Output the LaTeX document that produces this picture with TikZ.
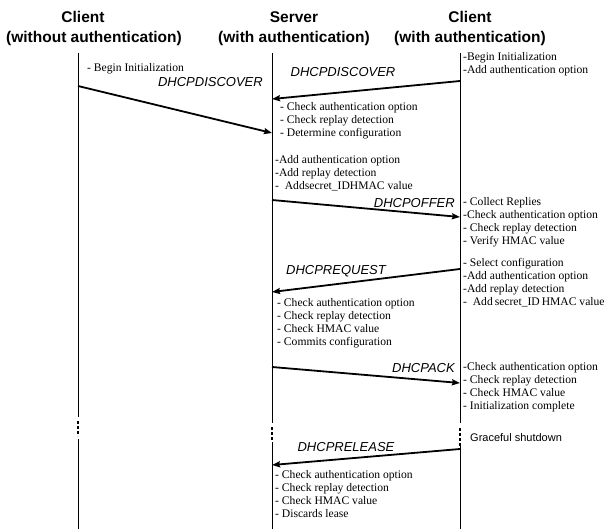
\documentclass[tikz,border=0pt]{standalone}
\usepackage{fontspec}
\setmainfont{Liberation Serif}
\setsansfont{Liberation Sans}
\usetikzlibrary{arrows.meta}
\begin{document}
\begin{tikzpicture}[x=1pt,y=-1pt,
  title/.style={font=\sffamily\bfseries\fontsize{15.5}{18}\selectfont, inner sep=0pt},
  note/.style={font=\fontsize{11.6}{13.2}\selectfont, align=left, anchor=north west, inner sep=0pt},
  sans/.style={font=\sffamily\fontsize{11}{13}\selectfont, anchor=west, inner sep=0pt},
  msg/.style={font=\sffamily\itshape\fontsize{13}{15}\selectfont, inner sep=0pt},
  life/.style={line width=0.9pt},
  gap/.style={line width=1.4pt, dash pattern=on 3pt off 2pt},
  arr/.style={line width=1.8pt, -{Stealth[length=8pt,width=6pt,inset=1pt]}}]
\useasboundingbox (0,0) rectangle (610,529);

% titles
\node[title] (t1a) at (83,17) {Client};
\node[title] (t1b) at (94,38) {(without authentication)};
\node[title] (t2a) at (294,17) {Server};
\node[title] (t2b) at (294,38) {(with authentication)};
\node[title] (t3a) at (470,17) {Client};
\node[title] (t3b) at (470,38) {(with authentication)};

% lifeline points
\coordinate (Lt) at (78,53);  \coordinate (Lb1) at (78,417); \coordinate (Ld1) at (78,421); \coordinate (Ld2) at (78,436); \coordinate (Lb2) at (78,439); \coordinate (Le) at (78,529);
\coordinate (Mt) at (272,53); \coordinate (Mb1) at (272,423); \coordinate (Md1) at (272,427); \coordinate (Md2) at (272,440); \coordinate (Mb2) at (272,442); \coordinate (Me) at (272,529);
\coordinate (Rt) at (460,53); \coordinate (Rb1) at (460,423); \coordinate (Rd1) at (460,428); \coordinate (Rd2) at (460,446); \coordinate (Rb2) at (460,446); \coordinate (Re) at (460,529);

\draw[life] (Lt) -- (Lb1); \draw[gap] (Ld1) -- (Ld2); \draw[life] (Lb2) -- (Le);
\draw[life] (Mt) -- (Mb1); \draw[gap] (Md1) -- (Md2); \draw[life] (Mb2) -- (Me);
\draw[life] (Rt) -- (Rb1); \draw[gap] (Rd1) -- (Rd2); \draw[life] (Rb2) -- (Re);

% message end points
\coordinate (a1s) at (78,86);   \coordinate (a1e) at (272,133);
\coordinate (a2s) at (460,81);  \coordinate (a2e) at (272,99);
\coordinate (a3s) at (272,200); \coordinate (a3e) at (460,217);
\coordinate (a4s) at (460,269); \coordinate (a4e) at (272,292);
\coordinate (a5s) at (272,367); \coordinate (a5e) at (460,383);
\coordinate (a6s) at (460,449); \coordinate (a6e) at (272,465);

\draw[arr] (a1s) -- (a1e);
\draw[arr] (a2s) -- (a2e);
\draw[arr] (a3s) -- (a3e);
\draw[arr] (a4s) -- (a4e);
\draw[arr] (a5s) -- (a5e);
\draw[arr] (a6s) -- (a6e);

% message labels
\node[msg, anchor=east] (m1) at (263,82) {DHCPDISCOVER};
\node[msg] (m2) at (343,72) {DHCPDISCOVER};
\node[msg, anchor=east] (m3) at (455,203) {DHCPOFFER};
\node[msg] (m4) at (336,271) {DHCPREQUEST};
\node[msg, anchor=east] (m5) at (455,368) {DHCPACK};
\node[msg] (m6) at (346,447) {DHCPRELEASE};

% notes
\node[note] (n0) at (87,63) {- Begin Initialization};
\node[note] (nR1) at (463,52) {-Begin Initialization\\-Add authentication option};
\node[note] (nM1) at (280,102) {- Check authentication option\\- Check replay detection\\- Determine configuration};
\node[note] (nM2) at (275,155) {-Add authentication option\\-Add replay detection\\- \ Addsecret\_IDHMAC value};
\node[note] (nR2) at (463,197) {- Collect Replies\\-Check authentication option\\- Check replay detection\\- Verify HMAC value};
\node[note] (nR3) at (463,258) {- Select configuration\\-Add authentication option\\-Add replay detection\\- \ Add\,secret\_ID\,HMAC value};
\node[note] (nM3) at (277,298) {- Check authentication option\\- Check replay detection\\- Check HMAC value\\- Commits configuration};
\node[note] (nR4) at (463,362) {-Check authentication option\\- Check replay detection\\- Check HMAC value\\- Initialization complete};
\node[sans] (gs) at (470,438) {Graceful shutdown};
\node[note] (nM4) at (275,470) {- Check authentication option\\- Check replay detection\\- Check HMAC value\\- Discards lease};
\end{tikzpicture}
\end{document}
